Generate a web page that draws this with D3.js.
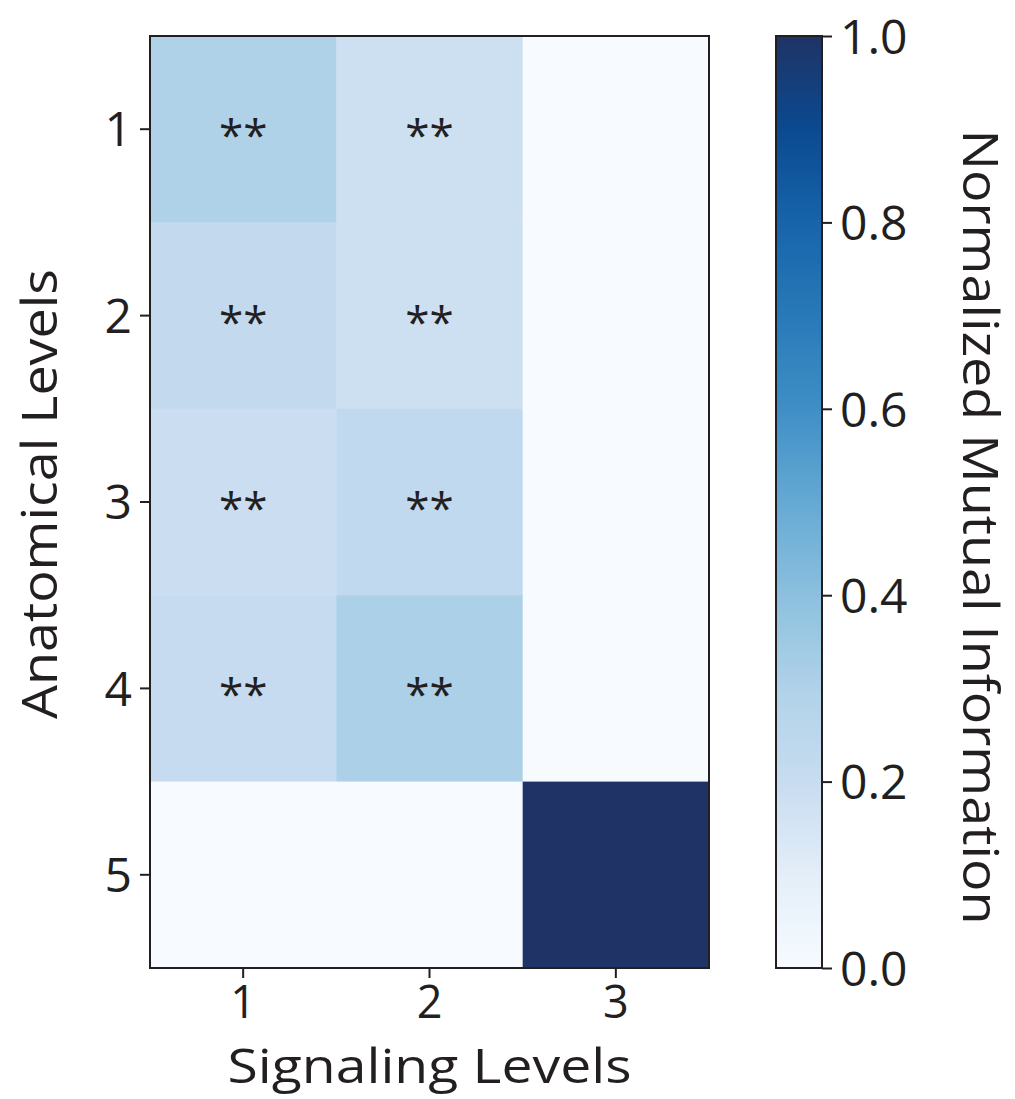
<!DOCTYPE html>
<html>
<head>
<meta charset="utf-8">
<script src="https://cdn.jsdelivr.net/npm/d3@7"></script>
<style>
  body { margin: 0; background: #fff; }
  text { font-family: "Open Sans", sans-serif; fill: #231f20; }
</style>
</head>
<body>
<svg id="chart" width="1015" height="1099"></svg>
<script>
// data
const signalingLevels = ["1", "2", "3"];
const anatomicalLevels = ["1", "2", "3", "4", "5"];
// rows = anatomical level, columns = signaling level
const nmiValues = [
  [0.30, 0.18, 0.0],
  [0.22, 0.18, 0.0],
  [0.19, 0.23, 0.0],
  [0.21, 0.31, 0.0],
  [0.0, 0.0, 1.0]
];
const significance = [
  ["**", "**", ""],
  ["**", "**", ""],
  ["**", "**", ""],
  ["**", "**", ""],
  ["", "", ""]
];
const colorbarTicks = [0, 0.2, 0.4, 0.6, 0.8, 1.0];

// colormap stops
const cmapStops = ["#f7fbff", "#e3eef8", "#c8dcf0", "#b0d2e8", "#8cc0de", "#64a9d4",
  "#3f8fc6", "#2879b8", "#1764ab", "#0a4a90", "#1f3366"];

const svg = d3.select("#chart");
const plot = { left: 150, right: 709, top: 36, bottom: 968 };
const cbar = { left: 776, right: 822 };

const x = d3.scaleBand().domain(signalingLevels).range([plot.left, plot.right]);
const y = d3.scaleBand().domain(anatomicalLevels).range([plot.top, plot.bottom]);
const color = d3.scaleLinear()
  .domain(d3.range(cmapStops.length).map(i => i / (cmapStops.length - 1)))
  .range(cmapStops)
  .interpolate(d3.interpolateRgb);

const cells = [];
nmiValues.forEach((row, i) => row.forEach((v, j) => {
  cells.push({ a: anatomicalLevels[i], s: signalingLevels[j], v, sig: significance[i][j] });
}));

svg.append("g").selectAll("rect")
  .data(cells)
  .join("rect")
  .attr("x", d => x(d.s))
  .attr("y", d => y(d.a))
  .attr("width", x.bandwidth() + 0.5)
  .attr("height", y.bandwidth() + 0.5)
  .attr("fill", d => color(d.v));

svg.append("g").selectAll("text")
  .data(cells.filter(d => d.sig))
  .join("text")
  .attr("x", d => x(d.s) + x.bandwidth() / 2)
  .attr("y", d => y(d.a) + y.bandwidth() / 2 + 22)
  .attr("text-anchor", "middle")
  .style("font-size", "44px")
  .text(d => d.sig);

// frame
svg.append("rect")
  .attr("x", plot.left).attr("y", plot.top)
  .attr("width", plot.right - plot.left).attr("height", plot.bottom - plot.top)
  .attr("fill", "none").attr("stroke", "#231f20").attr("stroke-width", 2);

// axes
const xAxis = svg.append("g")
  .attr("transform", `translate(0,${plot.bottom})`)
  .call(d3.axisBottom(x).tickSize(10).tickPadding(4));
const yAxis = svg.append("g")
  .attr("transform", `translate(${plot.left},0)`)
  .call(d3.axisLeft(y).tickSize(10).tickPadding(8));
[xAxis, yAxis].forEach(g => {
  g.select(".domain").remove();
  g.selectAll(".tick line").attr("stroke", "#231f20").attr("stroke-width", 2);
  g.selectAll(".tick text").style("font-size", "48px").attr("fill", "#231f20")
    .style("font-family", "'Open Sans', sans-serif");
});
xAxis.selectAll(".tick text").style("font-size", "45px").attr("dy", "0.8em");
yAxis.selectAll(".tick text").attr("dy", "0.36em");

// axis titles
svg.append("text")
  .attr("x", (plot.left + plot.right) / 2)
  .attr("y", 1083)
  .attr("text-anchor", "middle")
  .attr("textLength", 404).attr("lengthAdjust", "spacingAndGlyphs")
  .style("font-size", "48px")
  .text("Signaling Levels");

svg.append("text")
  .attr("transform", `translate(57,${(plot.top + plot.bottom) / 2 - 8}) rotate(-90)`)
  .attr("text-anchor", "middle")
  .attr("textLength", 450).attr("lengthAdjust", "spacingAndGlyphs")
  .style("font-size", "50px")
  .text("Anatomical Levels");

// colorbar
const cy = d3.scaleLinear().domain([0, 1]).range([plot.bottom, plot.top]);
const defs = svg.append("defs");
const grad = defs.append("linearGradient")
  .attr("id", "cbarGrad")
  .attr("x1", 0).attr("y1", 1).attr("x2", 0).attr("y2", 0);
grad.selectAll("stop")
  .data(d3.range(0, 1.0001, 0.02))
  .join("stop")
  .attr("offset", d => d)
  .attr("stop-color", d => color(d));

svg.append("rect")
  .attr("x", cbar.left).attr("y", plot.top)
  .attr("width", cbar.right - cbar.left).attr("height", plot.bottom - plot.top)
  .attr("fill", "url(#cbarGrad)")
  .attr("stroke", "#231f20").attr("stroke-width", 2);

const cAxis = svg.append("g")
  .attr("transform", `translate(${cbar.right},0)`)
  .call(d3.axisRight(cy).tickValues(colorbarTicks).tickFormat(d3.format(".1f")).tickSize(10).tickPadding(8));
cAxis.select(".domain").remove();
cAxis.selectAll(".tick line").attr("stroke", "#231f20").attr("stroke-width", 2);
cAxis.selectAll(".tick text").style("font-size", "48px").attr("fill", "#231f20")
  .style("font-family", "'Open Sans', sans-serif").attr("dy", "0.36em");

svg.append("text")
  .attr("transform", `translate(963,${(plot.top + plot.bottom) / 2 + 25}) rotate(90)`)
  .attr("text-anchor", "middle")
  .attr("textLength", 795).attr("lengthAdjust", "spacingAndGlyphs")
  .style("font-size", "50px")
  .text("Normalized Mutual Information");
</script>
</body>
</html>
